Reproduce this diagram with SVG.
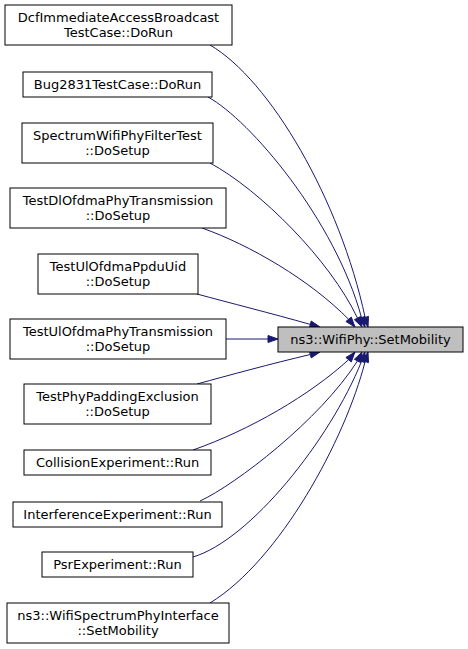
<svg xmlns="http://www.w3.org/2000/svg" width="468" height="649" viewBox="0 0 468 649">
<style>
.n rect{fill:#ffffff;stroke:#000000;stroke-width:1}
.t rect{fill:#bfbfbf;stroke:#000000;stroke-width:1}
text{font-family:"DejaVu Sans","Liberation Sans",sans-serif;font-size:13px;text-anchor:middle;fill:#000000}
.e path{fill:none;stroke:#191970;stroke-width:1}
.e polygon{fill:#191970;stroke:#191970;stroke-width:1}
</style>
<rect x="0" y="0" width="468" height="649" fill="#ffffff"/>
<g id="edges" class="e">
<path d="M210,45 C270,80 340,200 365.1,317.4"/>
<polygon points="368.5,316.4 361.8,318.4 368,327"/>
<path d="M208,97 C250,120 335,220 361.5,317.6"/>
<polygon points="364.8,316.4 358.2,318.8 365,327"/>
<path d="M210,163 C260,190 330,260 357.5,318.1"/>
<polygon points="360.6,316.5 354.4,319.7 362,327"/>
<path d="M202,228 C250,245 310,280 348.6,319.3"/>
<polygon points="351.3,317.1 345.9,321.5 355,327"/>
<path d="M197,294 C230,303 270,313 310.3,324.4"/>
<polygon points="311.2,321 309.4,327.8 320,327"/>
<path d="M226,339 L268,339"/>
<polygon points="268,335.5 278,339 268,342.5"/>
<path d="M197,384 C230,375 270,364 310.3,354.5"/>
<polygon points="311.2,357.9 309.4,351.1 320,352"/>
<path d="M193,450 C250,430 310,395 348.6,359.7"/>
<polygon points="351.3,361.9 345.9,357.5 355,352"/>
<path d="M200,501 C235,485 320,420 357.5,360.9"/>
<polygon points="360.6,362.5 354.4,359.3 362,352"/>
<path d="M193,557 C250,540 330,440 361.5,361.4"/>
<polygon points="364.8,362.6 358.2,360.2 365,352"/>
<path d="M210,603 C280,560 345,440 365.1,361.6"/>
<polygon points="368.5,362.6 361.8,360.6 368,352"/>
</g>
<g id="target" class="t">
<rect x="278" y="327" width="185" height="25"/>
<text x="370.5" y="343.5">ns3::WifiPhy::SetMobility</text>
</g>
<g id="n1" class="n">
<rect x="5" y="5" width="227" height="40"/>
<text x="118.5" y="22">DcfImmediateAccessBroadcast</text>
<text x="118.5" y="37">TestCase::DoRun</text>
</g>
<g id="n2" class="n">
<rect x="23" y="72" width="189" height="25"/>
<text x="117.5" y="88.5">Bug2831TestCase::DoRun</text>
</g>
<g id="n3" class="n">
<rect x="22" y="123" width="191" height="40"/>
<text x="117.5" y="140">SpectrumWifiPhyFilterTest</text>
<text x="117.5" y="155">::DoSetup</text>
</g>
<g id="n4" class="n">
<rect x="10" y="188" width="216" height="40"/>
<text x="118" y="205">TestDlOfdmaPhyTransmission</text>
<text x="118" y="220">::DoSetup</text>
</g>
<g id="n5" class="n">
<rect x="38" y="254" width="160" height="40"/>
<text x="118" y="271">TestUlOfdmaPpduUid</text>
<text x="118" y="286">::DoSetup</text>
</g>
<g id="n6" class="n">
<rect x="10" y="319" width="216" height="40"/>
<text x="118" y="336">TestUlOfdmaPhyTransmission</text>
<text x="118" y="351">::DoSetup</text>
</g>
<g id="n7" class="n">
<rect x="24" y="384" width="187" height="40"/>
<text x="117.5" y="401">TestPhyPaddingExclusion</text>
<text x="117.5" y="416">::DoSetup</text>
</g>
<g id="n8" class="n">
<rect x="24" y="450" width="187" height="25"/>
<text x="117.5" y="466.5">CollisionExperiment::Run</text>
</g>
<g id="n9" class="n">
<rect x="13" y="502" width="209" height="25"/>
<text x="117.5" y="518.5">InterferenceExperiment::Run</text>
</g>
<g id="n10" class="n">
<rect x="42" y="552" width="151" height="25"/>
<text x="117.5" y="568.5">PsrExperiment::Run</text>
</g>
<g id="n11" class="n">
<rect x="7" y="603" width="222" height="40"/>
<text x="118" y="620">ns3::WifiSpectrumPhyInterface</text>
<text x="118" y="635">::SetMobility</text>
</g>
</svg>
